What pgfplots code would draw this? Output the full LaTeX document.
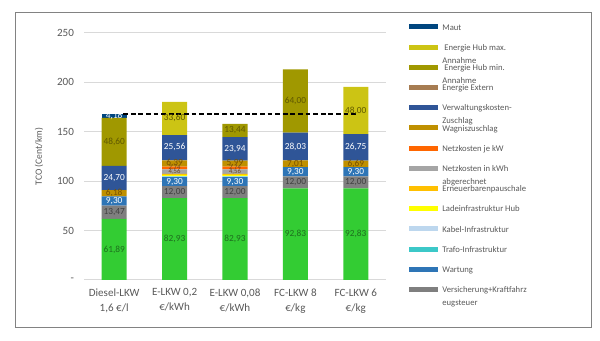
\documentclass[border=0pt]{standalone}
\usepackage{pgfplots}
\pgfplotsset{compat=1.18}
\usepackage{fontspec}
\setmainfont{Carlito}
\definecolor{cGreen}{RGB}{51,204,51}
\definecolor{cVers}{RGB}{127,127,127}
\definecolor{cWart}{RGB}{46,117,182}
\definecolor{cTrafo}{RGB}{60,200,200}
\definecolor{cKabel}{RGB}{189,215,238}
\definecolor{cLade}{RGB}{255,255,0}
\definecolor{cErn}{RGB}{255,192,0}
\definecolor{cNkWh}{RGB}{165,165,165}
\definecolor{cNkW}{RGB}{255,102,0}
\definecolor{cWagnis}{RGB}{191,144,0}
\definecolor{cVerw}{RGB}{47,85,151}
\definecolor{cExtern}{RGB}{166,124,82}
\definecolor{cHubMin}{RGB}{160,152,0}
\definecolor{cHubMax}{RGB}{204,196,20}
\definecolor{cMaut}{RGB}{0,70,127}
\definecolor{txt}{RGB}{89,89,89}
\definecolor{gridc}{RGB}{217,217,217}
\definecolor{framec}{RGB}{130,130,130}
\definecolor{lGreen}{RGB}{30,110,30}
\definecolor{lGray}{RGB}{64,64,64}
\definecolor{lBrown}{RGB}{120,80,0}
\definecolor{lOlive}{RGB}{95,88,0}
\definecolor{lSmall}{RGB}{110,70,30}
\pgfplotsset{
  lbl/.style={draw=none, mark=none, nodes near coords, point meta=explicit symbolic,
    every node near coord/.append style={anchor=center, inner sep=0pt, font=\fontsize{7}{8}\selectfont, text=#1}},
}
\newcommand{\twol}[2]{\smash{\parbox[t]{3.3cm}{\raggedright #1\\#2}}}
\begin{document}
\begin{tikzpicture}
\path (0pt,0pt) rectangle (450pt,255.75pt);
\draw[framec, line width=0.6pt] (11.25pt,10.5pt) rectangle (443.25pt,246.75pt);
\begin{axis}[
  at={(63pt,45.75pt)}, anchor=south west,
  scale only axis, width=226.5pt, height=185.25pt,
  ybar stacked, bar width=0.414,
  xmin=-0.5, xmax=4.5, ymin=0, ymax=250,
  axis lines*=left,
  y axis line style={draw=none},
  x axis line style={draw=gridc, line width=0.75pt},
  ymajorgrids, grid style={gridc, line width=0.75pt},
  ytick={0,50,100,150,200,250},
  yticklabels={-,50,100,150,200,250},
  ytick style={draw=none},
  xtick={0,1,2,3,4},
  xticklabels={{Diesel-LKW\\1,6 €/l},{E-LKW 0,2\\€/kWh},{E-LKW 0,08\\€/kWh},{FC-LKW 8\\€/kg},{FC-LKW 6\\€/kg}},
  xtick style={draw=none},
  extra x ticks={-0.5,0.5,1.5,2.5,3.5,4.5},
  extra x tick labels={},
  extra x tick style={tick style={draw=gridc, line width=0.75pt}, major tick length=4pt, tick align=outside, grid=none},
  tick label style={font=\fontsize{8.3}{11.25}\selectfont, text=txt},
  xticklabel style={align=center, yshift=-3pt},
  yticklabel style={xshift=-4pt},
  ylabel={TCO (Cent/km)},
  ylabel style={at={(axis description cs:-0.149,0.5)}, anchor=center, font=\fontsize{7.2}{8}\selectfont, text=txt},
  reverse legend,
  legend cell align=left,
  legend style={at={(1.0762,1.0653)}, anchor=north west, draw=none, fill=none,
    inner sep=0pt, outer sep=0pt, row sep=0pt, column sep=3pt,
    font=\fontsize{6.5}{9.75}\selectfont, text=txt,
    nodes={inner sep=0pt, text height=9.875pt, text depth=5.275pt}},
  legend image code/.code={\fill[#1] (0pt,-1.9pt) rectangle (22pt,1.9pt);},
]
\addplot[fill=cGreen, draw=none, forget plot] coordinates {(0,61.89) (1,82.93) (2,82.93) (3,92.83) (4,92.83)};
\addplot[fill=cVers, draw=none] coordinates {(0,13.47) (1,12.00) (2,12.00) (3,12.00) (4,12.00)};
\addlegendentry{\twol{Versicherung+Kraftfahrz}{eugsteuer}}
\addplot[fill=cWart, draw=none] coordinates {(0,9.30) (1,9.30) (2,9.30) (3,9.30) (4,9.30)};
\addlegendentry{Wartung}
\addplot[fill=cTrafo, draw=none] coordinates {(0,0) (1,0.40) (2,0.40) (3,0) (4,0)};
\addlegendentry{Trafo-Infrastruktur}
\addplot[fill=cKabel, draw=none] coordinates {(0,0) (1,0.60) (2,0.60) (3,0) (4,0)};
\addlegendentry{Kabel-Infrastruktur}
\addplot[fill=cLade, draw=none] coordinates {(0,0) (1,1.20) (2,1.20) (3,0) (4,0)};
\addlegendentry{Ladeinfrastruktur Hub}
\addplot[fill=cErn, draw=none] coordinates {(0,0) (1,1.00) (2,1.00) (3,0) (4,0)};
\addlegendentry{Erneuerbarenpauschale}
\addplot[fill=cNkWh, draw=none] coordinates {(0,0) (1,4.56) (2,4.56) (3,0) (4,0)};
\addlegendentry{\twol{Netzkosten in kWh}{abgerechnet}}
\addplot[fill=cNkW, draw=none] coordinates {(0,0) (1,2.74) (2,2.74) (3,0) (4,0)};
\addlegendentry{Netzkosten je kW}
\addplot[fill=cWagnis, draw=none] coordinates {(0,6.18) (1,6.39) (2,5.99) (3,7.01) (4,6.69)};
\addlegendentry{Wagniszuschlag}
\addplot[fill=cVerw, draw=none] coordinates {(0,24.70) (1,25.56) (2,23.94) (3,28.03) (4,26.75)};
\addlegendentry{\twol{Verwaltungskosten-}{Zuschlag}}
\addplot[fill=cExtern, draw=none] coordinates {(0,0) (1,0) (2,0) (3,0) (4,0)};
\addlegendentry{Energie Extern}
\addplot[fill=cHubMin, draw=none] coordinates {(0,48.60) (1,0) (2,13.44) (3,64.00) (4,0)};
\addlegendentry{\twol{\ Energie Hub min.}{Annahme}}
\addplot[fill=cHubMax, draw=none] coordinates {(0,0) (1,33.60) (2,0) (3,0) (4,48.00)};
\addlegendentry{\twol{\ Energie Hub max.}{Annahme}}
\addplot[fill=cMaut, draw=none] coordinates {(0,4.18) (1,0) (2,0) (3,0) (4,0)};
\addlegendentry{Maut}
\end{axis}
\begin{axis}[
  at={(63pt,45.75pt)}, anchor=south west,
  scale only axis, width=226.5pt, height=185.25pt,
  xmin=-0.5, xmax=4.5, ymin=0, ymax=250,
  hide axis, clip=false,
]
\addplot[black, line width=1.4pt, dash pattern=on 3.5pt off 2.2pt] coordinates {(0.15,168.32) (4,168.32)};
\addplot[lbl=lGreen] coordinates {(0,30.95)[61,89] (1,41.47)[82,93] (2,41.47)[82,93] (3,46.42)[92,83] (4,46.42)[92,83]};
\addplot[lbl=lGray] coordinates {(0,68.62)[13,47] (1,88.93)[12,00] (2,88.93)[12,00] (3,98.83)[12,00] (4,98.83)[12,00]};
\addplot[lbl=white] coordinates {(0,80.01)[9,30] (1,99.58)[9,30] (2,99.58)[9,30] (3,109.48)[9,30] (4,109.48)[9,30]};
\addplot[lbl=lBrown] coordinates {(0,87.75)[6,18] (1,118.23)[6,39] (2,118.03)[5,99] (3,117.64)[7,01] (4,117.48)[6,69]};
\addplot[lbl=white] coordinates {(0,103.19)[24,70] (1,134.2)[25,56] (2,132.99)[23,94] (3,135.16)[28,03] (4,134.2)[26,75]};
\addplot[lbl=lOlive] coordinates {(0,139.84)[48,60] (1,163.78)[33,60] (2,151.68)[13,44] (3,181.17)[64,00] (4,171.57)[48,00]};
\addplot[lbl=white] coordinates {(0,166.23)[4,18]};
\addplot[lbl=lSmall, every node near coord/.append style={font=\fontsize{5}{6}\selectfont}] coordinates {(1,113.66)[2,74] (2,113.66)[2,74] (1,110.01)[4,56] (2,110.01)[4,56]};
\end{axis}
\end{tikzpicture}
\end{document}
